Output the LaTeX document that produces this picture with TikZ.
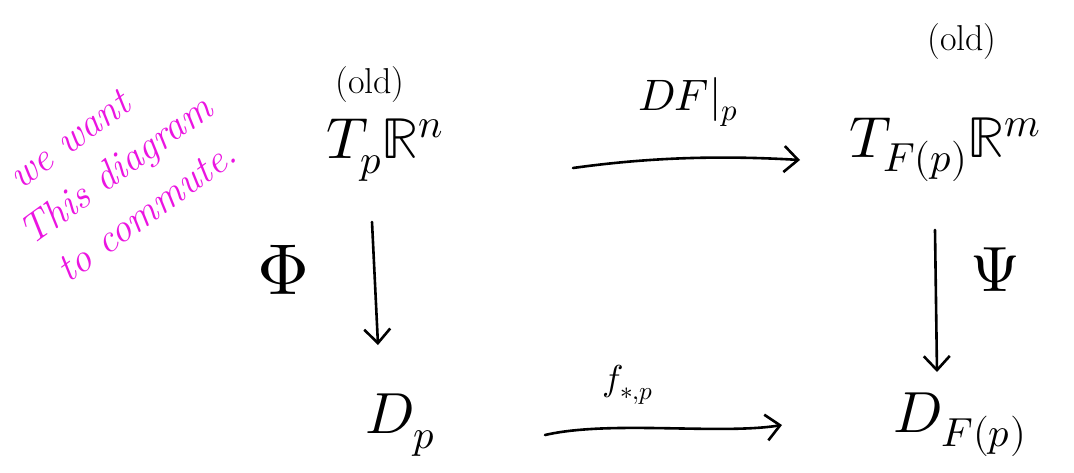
\documentclass[tikz,border=0pt]{standalone}
\usepackage{unicode-math}
\setmathfont{Latin Modern Math}
\usetikzlibrary{arrows.meta,calc}
\definecolor{hand}{RGB}{235,20,225}
\tikzset{
  obj/.style={inner sep=0pt,font=\fontsize{58}{64}\selectfont},
  lab/.style={inner sep=0pt,font=\fontsize{44}{50}\selectfont},
  old/.style={inner sep=0pt,font=\fontsize{36}{40}\selectfont},
  arr/.style={line width=2.6pt,line cap=round,-{Straight Barb[length=14pt,width=26pt,line width=2.6pt]}},
  note/.style={inner sep=0pt,text=hand,font=\fontsize{40}{52}\selectfont\itshape,align=left,rotate=36}
}
\begin{document}
\begin{tikzpicture}[x=1pt,y=-1pt]
\useasboundingbox[fill=white] (0,0) rectangle (1074,472);
% objects
\node[obj] (a) at (385,150) {$T_p\mathbb{R}^n$};
\node[obj] (b) at (945,150) {$T_{F(p)}\mathbb{R}^m$};
\node[obj] (c) at (400,425) {$D_p$};
\node[obj] (d) at (960,425) {$D_{F(p)}$};
\node[old] (olda) at (370,85) {(old)};
\node[old] (oldb) at (962,42) {(old)};
% connectors
\draw[arr] ($(a.center)+(188,18)$) .. controls ($(a.center)+(260,8)$) and ($(b.center)+(-230,5)$) .. ($(b.center)+(-145,10)$);
\draw[arr] ($(a.center)+(-13,72)$) -- ($(c.center)+(-22,-80)$);
\draw[arr] ($(b.center)+(-10,80)$) -- ($(d.center)+(-23,-53)$);
\draw[arr] ($(c.center)+(145,10)$) .. controls ($(c.center)+(210,-5)$) and ($(d.center)+(-240,10)$) .. ($(d.center)+(-178,0)$);
% labels
\node[lab] (lt) at (688,102) {$DF|_p$};
\node[lab,font=\fontsize{36}{40}\selectfont] (lbt) at (628,385) {$f_{*,p}$};
\node[lab,font=\fontsize{72}{80}\selectfont] (ll) at (283,270) {$\Phi$};
\node[lab,font=\fontsize{64}{70}\selectfont] (lr) at (995,270) {$\Psi$};
% note
\node[note] (n) at (116,170) {\hspace*{24pt}we want\\This diagram\\\hspace*{8pt}to commute.};
\end{tikzpicture}
\end{document}
